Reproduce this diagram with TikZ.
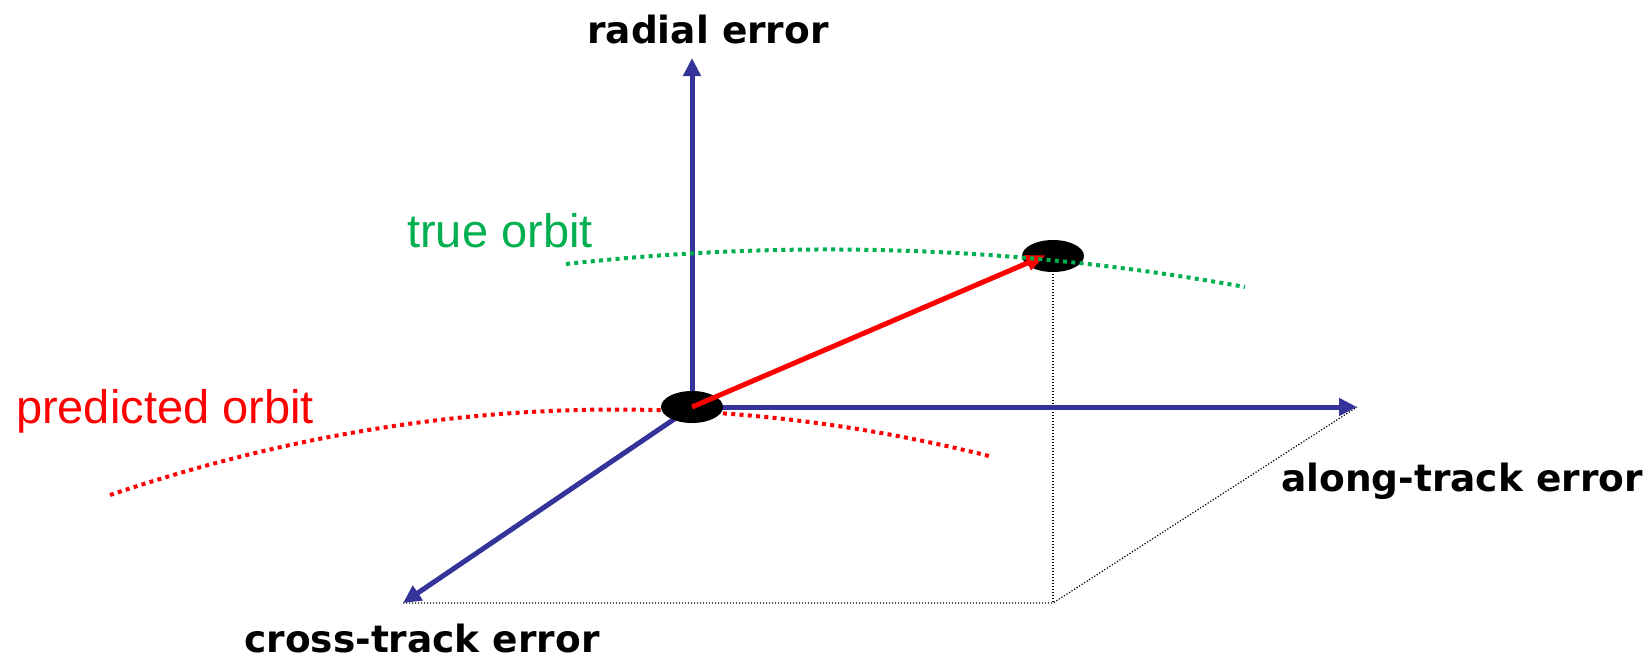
\documentclass[tikz,border=0pt]{standalone}
\usepackage{fontspec}
\setmainfont{Liberation Sans}
\newfontfamily\axisfont{DejaVu Sans}
\usetikzlibrary{arrows.meta,shapes.geometric}

\definecolor{axisblue}{HTML}{333399}
\definecolor{orbitgreen}{HTML}{00B050}

\begin{document}
\begin{tikzpicture}[
    x=1pt,y=-1pt,
    line join=round,
    axis/.style={draw=axisblue,line width=5pt,-{Triangle[width=17pt,length=18pt]}},
    errvec/.style={draw=red,line width=5pt,-{Triangle[width=15pt,length=20pt]}},
    sat/.style={ellipse,fill=black,minimum width=62pt,minimum height=32pt,inner sep=0pt},
    orbit/.style={line width=4pt,dash pattern=on 4pt off 4.3pt},
    guide/.style={draw=black,line width=1.2pt,dash pattern=on 1.2pt off 1.8pt},
    axislabel/.style={anchor=base,inner sep=0pt,font=\axisfont\bfseries\fontsize{37.5}{40}\selectfont},
    orbitlabel/.style={anchor=base,inner sep=0pt,font=\fontsize{47}{50}\selectfont}
]
\useasboundingbox (0,0) rectangle (1645,659);

% frame points
\coordinate (o) at (692,407);
\coordinate (p) at (1053,256);
\coordinate (radtip) at (692,58);
\coordinate (alongtip) at (1357,407);
\coordinate (crosstip) at (403,603);
\coordinate (foot) at (1053,603);
\coordinate (vectip) at (1046,255);

% predicted orbit
\draw[orbit,red] (110,495) .. controls (403,396) and (696,383) .. (989,456);

% guide lines
\draw[guide] (p) -- (foot);
\draw[guide] (crosstip) -- (foot) -- (alongtip);

% axes
\draw[axis] (o) -- (radtip);
\draw[axis] (o) -- (alongtip);
\draw[axis] (o) -- (crosstip);

\node[sat] (pred) at (o) {};
\node[sat] (true) at (p) {};

\draw[errvec] (pred.center) -- (vectip);

% true orbit
\draw[orbit,orbitgreen] (566,264) .. controls (792,239) and (1018,246) .. (1245,287);

\node[axislabel] (radlabel) at (708,43) {radial error};
\node[axislabel] (alonglabel) at (1462,491) {along-track error};
\node[axislabel] (crosslabel) at (422,652) {cross-track error};
\node[orbitlabel,red] (predlabel) at (165,423) {predicted orbit};
\node[orbitlabel,orbitgreen] (truelabel) at (500,247) {true orbit};

\end{tikzpicture}
\end{document}
